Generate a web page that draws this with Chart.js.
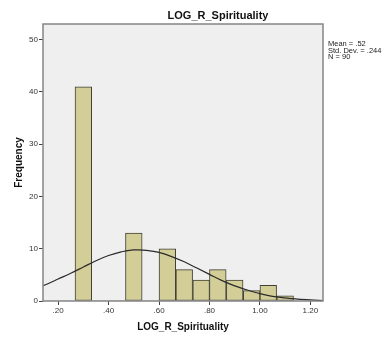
<!DOCTYPE html>
<html>
<head>
<meta charset="utf-8">
<script src="https://cdn.jsdelivr.net/npm/chart.js@4/dist/chart.umd.min.js"></script>
<style>
  body { margin: 0; background: #fff; }
  #grafica { display: block; }
</style>
</head>
<body>
<canvas id="grafica" width="384" height="339"></canvas>
<script>
// histograma: centro de cada intervalo (ancho 1/15) y frecuencias
const binCenters = [0.300, 0.367, 0.433, 0.500, 0.567, 0.633, 0.700, 0.767, 0.833, 0.900, 0.967, 1.033, 1.100];
const counts = [41, 0, 0, 13, 0, 10, 6, 4, 6, 4, 2, 3, 1];

// curva normal
const curveX = [0.14, 0.15, 0.20, 0.25, 0.30, 0.35, 0.40, 0.45, 0.50, 0.52, 0.55, 0.60, 0.65, 0.70, 0.75, 0.80, 0.85, 0.90, 0.95, 1.00, 1.05, 1.10, 1.15, 1.20, 1.25];
const curveY = [2.9, 3.1, 4.2, 5.3, 6.5, 7.7, 8.7, 9.4, 9.8, 9.8, 9.7, 9.3, 8.5, 7.5, 6.3, 5.1, 3.9, 2.9, 2.1, 1.4, 0.9, 0.6, 0.35, 0.2, 0.1];

const xTickVals = [0.2, 0.4, 0.6, 0.8, 1.0, 1.2];
const xTickLabels = [".20", ".40", ".60", ".80", "1.00", "1.20"];
const yTickVals = [0, 10, 20, 30, 40, 50];

const titulo = "LOG_R_Spirituality";
const estadisticas = ["Mean = .52", "Std. Dev. = .244", "N = 90"];

const FUENTE = 'Arial, "Liberation Sans", sans-serif';

const fondoYTextos = {
    id: "fondoYTextos",
    beforeDraw(chart) {
        const { ctx, chartArea: a } = chart;
        ctx.save();
        ctx.fillStyle = "#efefef";
        ctx.fillRect(a.left, a.top, a.right - a.left, a.bottom - a.top);
        ctx.restore();
    },
    afterDraw(chart) {
        const { ctx, chartArea: a } = chart;
        ctx.save();
        ctx.strokeStyle = "#858585";
        ctx.lineWidth = 1.5;
        ctx.strokeRect(a.left, a.top, a.right - a.left, a.bottom - a.top);

        ctx.fillStyle = "#111";
        ctx.font = "bold 11px " + FUENTE;
        ctx.textAlign = "center";
        ctx.textBaseline = "middle";
        ctx.fillText(titulo, 218, 16);

        ctx.font = "7.5px " + FUENTE;
        ctx.textAlign = "left";
        ctx.fillStyle = "#222";
        estadisticas.forEach((t, i) => ctx.fillText(t, a.right + 5, 44 + i * 6.5));
        ctx.restore();
    }
};

function crearHistograma(idCanvas) {
    const ctx = document.getElementById(idCanvas);

    new Chart(ctx, {
        type: "bar",
        data: {
            datasets: [{
                type: "line",
                data: curveX.map((x, i) => ({ x: x, y: curveY[i] })),
                borderColor: "#2b2b2b",
                borderWidth: 1.2,
                pointRadius: 0,
                cubicInterpolationMode: "monotone",
                fill: false,
                order: 0
            }, {
                type: "bar",
                data: binCenters.map((x, i) => ({ x: x, y: counts[i] })),
                backgroundColor: "#d3ce97",
                borderColor: "#3f3f33",
                borderWidth: c => (c.raw && c.raw.y === 0 ? 0 : 1),
                borderSkipped: false,
                barPercentage: 1,
                categoryPercentage: 1,
                order: 1
            }]
        },
        options: {
            responsive: false,
            animation: false,
            layout: { padding: { top: 24, right: 61, left: 0, bottom: 0 } },
            plugins: {
                legend: { display: false },
                tooltip: { enabled: false }
            },
            scales: {
                x: {
                    type: "linear",
                    min: 0.14,
                    max: 1.25,
                    offset: false,
                    afterBuildTicks: s => { s.ticks = xTickVals.map(v => ({ value: v })); },
                    afterFit: s => { s.height = 38; },
                    ticks: {
                        color: "#333",
                        font: { size: 8, family: FUENTE },
                        padding: 1,
                        maxRotation: 0,
                        callback: v => xTickLabels[xTickVals.findIndex(t => Math.abs(t - v) < 1e-6)]
                    },
                    grid: { drawOnChartArea: false, tickLength: 4, color: "#444", offset: false },
                    border: { display: false },
                    title: {
                        display: true,
                        text: titulo,
                        color: "#111",
                        font: { size: 10, weight: "bold", family: FUENTE },
                        padding: { top: 0, bottom: 6 }
                    }
                },
                y: {
                    min: 0,
                    max: 53,
                    afterBuildTicks: s => { s.ticks = yTickVals.map(v => ({ value: v })); },
                    afterFit: s => { s.width = 43; },
                    ticks: {
                        color: "#333",
                        font: { size: 8, family: FUENTE },
                        padding: 1
                    },
                    grid: { drawOnChartArea: false, tickLength: 4, color: "#444" },
                    border: { display: false },
                    title: {
                        display: true,
                        text: "Frequency",
                        color: "#111",
                        font: { size: 10, weight: "bold", family: FUENTE },
                        padding: { top: 13, bottom: 0 }
                    }
                }
            }
        },
        plugins: [fondoYTextos]
    });
}

document.addEventListener("DOMContentLoaded", () => {
    crearHistograma("grafica");
});
</script>
</body>
</html>
